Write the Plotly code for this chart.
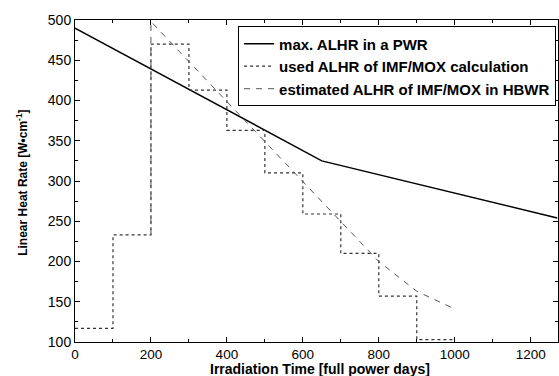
import plotly.graph_objects as go

# Data
pwr_x = [0, 650, 1270]
pwr_y = [490, 325, 254]

step_x = [0, 100, 100, 200, 200, 300, 300, 400, 400, 500, 500, 600, 600, 700, 700, 800, 800, 900, 900, 1000]
step_y = [117, 117, 233, 233, 470, 470, 413, 413, 363, 363, 310, 310, 259, 259, 210, 210, 157, 157, 103, 103]

hbwr_x = [200, 200, 800, 900, 1000]
hbwr_y = [233, 498, 200, 163, 141]

x_ticks = [0, 200, 400, 600, 800, 1000, 1200]
y_ticks = [100, 150, 200, 250, 300, 350, 400, 450, 500]

FONT = "Liberation Sans, Arial, Helvetica"

fig = go.Figure()
fig.add_trace(go.Scatter(x=pwr_x, y=pwr_y, mode="lines", name="<b>max. ALHR in a PWR</b>",
                         line=dict(color="black", width=1.5)))
fig.add_trace(go.Scatter(x=step_x, y=step_y, mode="lines", name="<b>used ALHR of IMF/MOX calculation</b>",
                         line=dict(color="#333333", width=1.2, dash="dot")))
fig.add_trace(go.Scatter(x=hbwr_x, y=hbwr_y, mode="lines", name="<b>estimated ALHR of IMF/MOX in HBWR</b>",
                         line=dict(color="#555555", width=1, dash="6px,6px")))

axis_common = dict(showgrid=False, zeroline=False, showline=True, linecolor="black", linewidth=1,
                   mirror="allticks", ticks="inside", ticklen=5, tickcolor="black", automargin=False)

fig.update_layout(
    width=559, height=376,
    margin=dict(l=75, r=1, t=20, b=34),
    paper_bgcolor="white", plot_bgcolor="white",
    showlegend=True,
    legend=dict(x=0.996, y=0.98, xanchor="right", yanchor="top",
                bgcolor="white", bordercolor="black", borderwidth=1,
                font=dict(family=FONT, size=15, color="black"),
                itemwidth=30, tracegroupgap=0),
    xaxis=dict(range=[0, 1272], tickvals=x_ticks, ticklabelstandoff=0,
               tickfont=dict(family=FONT, size=13.5, color="black"),
               minor=dict(ticks="inside", ticklen=3, dtick=100, tickcolor="black"),
               **axis_common),
    yaxis=dict(range=[100, 500], tickvals=y_ticks,
               tickfont=dict(family=FONT, size=14, color="black"),
               minor=dict(ticks="inside", ticklen=3, dtick=25, tickcolor="black"),
               **axis_common),
    annotations=[
        dict(text="<b>Irradiation Time [full power days]</b>", xref="paper", yref="paper",
             x=0.507, y=-0.0823, xanchor="center", yanchor="middle", showarrow=False,
             font=dict(family=FONT, size=14, color="black")),
        dict(text="<b>Linear Heat Rate [W\u2022cm<sup>-1</sup>]</b>", xref="paper", yref="paper",
             x=-0.11, y=0.494, xanchor="center", yanchor="middle", showarrow=False, textangle=-90,
             font=dict(family=FONT, size=12, color="black")),
    ],
)

fig.write_html("out.html", config={"displayModeBar": False},
               post_script="document.body.style.margin='0';")
